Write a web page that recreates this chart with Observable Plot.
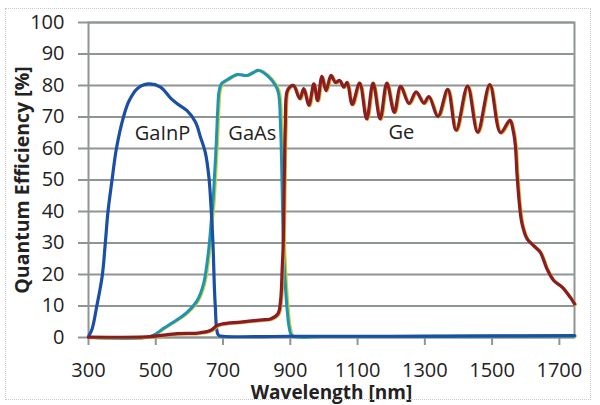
<!DOCTYPE html>
<html>
<head>
<meta charset="utf-8">
<script src="https://cdn.jsdelivr.net/npm/d3@7"></script>
<script src="https://cdn.jsdelivr.net/npm/@observablehq/plot@0.6"></script>
<style>
  html, body { margin: 0; padding: 0; background: #fff; }
  #wrap { position: relative; width: 600px; height: 405px; overflow: hidden; }
  #border { position: absolute; left: 5px; top: 8px; width: 586px; height: 392px; border: 1px dotted #c8c8c8; box-sizing: border-box; pointer-events: none; }
</style>
</head>
<body>
<div id="wrap"><div id="border"></div><div id="chart"></div></div>
<script>
// ---- data ----
const xTitle = "Wavelength [nm]";
const yTitle = "Quantum Efficiency [%]";
const xTicks = [300, 500, 700, 900, 1100, 1300, 1500, 1700];
const yTicks = [0, 10, 20, 30, 40, 50, 60, 70, 80, 90, 100];

const seriesNames = ["GaInP", "GaAs", "Ge"];
const labelX = [520, 787, 1230];
const labelY = [64.8, 64.8, 65];

const gainpNm  = [300, 311, 324, 341, 350, 358, 370, 383, 404, 420, 445, 478, 514, 544, 563, 593, 618, 633, 648, 658, 665, 670, 677, 686, 700, 900, 1200, 1500, 1745];
const gainpQE  = [0.3, 2.8, 9.6, 19.7, 30, 40, 50, 60, 70, 75, 79, 80.5, 79.5, 76, 74.3, 72, 68.4, 63.6, 58.4, 50.9, 40.3, 30, 10, 0.8, 0.4, 0.4, 0.4, 0.5, 0.6];

const gaasNm   = [300, 484, 523, 553, 593, 623, 642, 657, 665, 670, 675, 680, 684, 688, 695, 712, 742, 771, 806, 831, 856, 865, 871, 874, 877, 880, 885, 890, 897, 905, 1000, 1745];
const gaasQE   = [0.1, 0.3, 2.9, 4.9, 8, 11.7, 17, 27.6, 37, 43, 52, 62, 72, 78, 80.5, 81.8, 83.5, 83.2, 84.8, 83.2, 80, 77.5, 66.8, 56, 40, 27.6, 17, 9.6, 3, 0.6, 0.3, 0.5];

const geNm     = [300, 484, 563, 623, 662, 682, 697, 752, 816, 841, 863, 871, 876, 879, 882, 885, 890, 900, 910, 928, 940, 955, 970, 981, 994, 1006, 1021, 1034, 1047, 1059, 1069, 1084, 1106, 1127, 1146, 1167, 1187, 1209, 1228, 1253, 1274, 1297, 1312, 1339, 1368, 1393, 1427, 1457, 1493, 1525, 1553, 1562, 1569, 1574, 1582, 1589, 1604, 1623, 1643, 1663, 1683, 1708, 1732, 1745];
const geQE     = [0.1, 0.3, 1.2, 1.4, 2.2, 3.8, 4.3, 4.9, 5.6, 5.9, 7.5, 11.7, 22.3, 30, 50, 67, 78, 79.7, 80, 75.8, 79, 73.7, 80.5, 75.2, 82.9, 78.4, 83.2, 81, 81.6, 79.5, 81, 74, 80.8, 69.4, 80.8, 69.4, 80.8, 71.5, 79.7, 74.3, 78, 74.4, 76.5, 70.2, 78.8, 65.8, 79.8, 65.2, 80.3, 65, 69, 66, 61, 51.9, 41.4, 36.1, 31.3, 29.2, 27.1, 21.8, 18.1, 16, 12.8, 10.7];

const colors = ["#1a4fa3", "#1f93b3", "#8b1c22"];

// ---- build tables ----
const toRows = (nm, qe) => nm.map((x, i) => ({x, y: qe[i]}));
const gainp = toRows(gainpNm, gainpQE);
const gaas = toRows(gaasNm, gaasQE);
const ge = toRows(geNm, geQE);
const labels = seriesNames.map((name, i) => ({name, x: labelX[i], y: labelY[i]}));

const gridColor = "#8f9593";
const font = "'Open Sans', sans-serif";
const plain = d => String(d);

const chart = Plot.plot({
  width: 600,
  height: 405,
  marginLeft: 88,
  marginRight: 26,
  marginTop: 22,
  marginBottom: 68,
  style: {fontFamily: font, background: "transparent", color: "#222"},
  x: {domain: [300, 1745], ticks: xTicks, label: null},
  y: {domain: [0, 100], ticks: yTicks, label: null},
  marks: [
    Plot.gridY(yTicks, {stroke: gridColor, strokeOpacity: 1, strokeWidth: 2}),
    Plot.frame({stroke: gridColor, strokeWidth: 2}),
    Plot.axisY(yTicks, {tickSize: 10, tickPadding: 14, stroke: gridColor, strokeWidth: 2, fontSize: 20, fill: "#222", label: null, tickFormat: plain}),
    Plot.axisX(xTicks, {tickSize: 8, tickPadding: 17, stroke: gridColor, strokeWidth: 2, fontSize: 20, fill: "#222", label: null, tickFormat: plain}),
    // scanned colour-fringe underlays
    Plot.line(gaas, {x: "x", y: "y", stroke: "#c9d437", strokeWidth: 3, dx: 1.2, curve: "catmull-rom"}),
    Plot.line(gaas, {x: "x", y: "y", stroke: colors[1], strokeWidth: 3, curve: "catmull-rom"}),
    Plot.line(gainp, {x: "x", y: "y", stroke: colors[0], strokeWidth: 3.2, curve: "catmull-rom"}),
    Plot.line(ge, {x: "x", y: "y", stroke: "#d2b43a", strokeWidth: 3, dx: 1, dy: 0.6, curve: "catmull-rom"}),
    Plot.line(ge, {x: "x", y: "y", stroke: colors[2], strokeWidth: 3.2, curve: "catmull-rom"}),
    Plot.text(labels, {x: "x", y: "y", text: "name", fontSize: 20, fill: "#222"}),
    Plot.text([xTitle], {frameAnchor: "bottom", dy: 55, lineAnchor: "middle", textAnchor: "middle", fontSize: 19, fontWeight: "bold", fill: "#222"}),
    Plot.text([yTitle], {frameAnchor: "left", dx: -66, rotate: -90, lineAnchor: "middle", textAnchor: "middle", fontSize: 19.5, fontWeight: "bold", fill: "#222"})
  ]
});
document.getElementById("chart").appendChild(chart);
</script>
</body>
</html>
